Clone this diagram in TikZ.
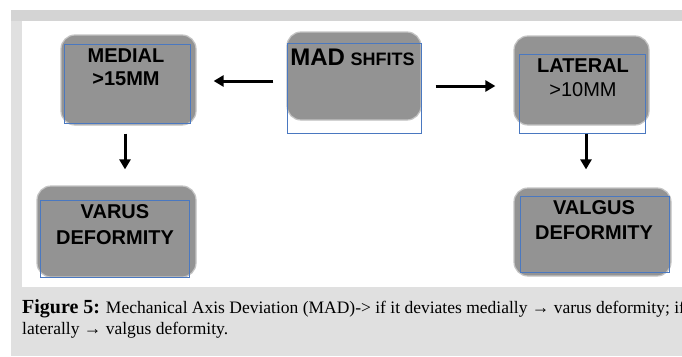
\documentclass[tikz,border=0pt]{standalone}
\usepackage{fontspec}
\setmainfont{Liberation Serif}
\newfontfamily\arialf{Liberation Sans}
\usetikzlibrary{arrows.meta}

\definecolor{boxgray}{HTML}{939393}
\definecolor{framblue}{HTML}{4A78C0}
\definecolor{pagegray}{HTML}{E0E0E0}
\definecolor{bandgray}{HTML}{D4D4D4}

\tikzset{
  graybox/.style={rectangle, rounded corners=14pt, fill=boxgray, draw=boxgray!55!white, line width=1.2pt},
  frame/.style={rectangle, draw=framblue, line width=0.9pt, inner sep=0pt},
  boxtext/.style={align=center, inner sep=0pt, font={\arialf\bfseries\fontsize{20}{24}\selectfont}},
  arr/.style={-{Triangle[length=10pt,width=11pt]}, line width=3pt, black}
}

\begin{document}
\begin{tikzpicture}[x=1pt, y=-1pt]
        \clip (0,0) rectangle (682,356);
        % page background
        \fill[pagegray] (11,10) rectangle (682,356);
        \fill[bandgray] (11,10) rectangle (682,21);
        \fill[white] (22,21) rectangle (682,287);

        % boxes
        \node[graybox, minimum width=135pt, minimum height=90pt] (1) at (128.5,80) {};
        \node[graybox, minimum width=134pt, minimum height=88pt] (2) at (354,76) {};
        \node[graybox, minimum width=135pt, minimum height=89pt] (3) at (581.5,80.5) {};
        \node[graybox, minimum width=159pt, minimum height=91pt] (4) at (116.5,231.5) {};
        \node[graybox, minimum width=157pt, minimum height=88pt] (5) at (592.5,232) {};

        \node[frame, minimum width=126pt, minimum height=79pt] (f1) at (127,83.5) {};
        \node[frame, minimum width=134pt, minimum height=90pt] (f2) at (354,88) {};
        \node[frame, minimum width=126pt, minimum height=79pt] (f3) at (582,93.5) {};
        \node[frame, minimum width=149pt, minimum height=77pt] (f4) at (114.5,238.5) {};
        \node[frame, minimum width=149pt, minimum height=76pt] (f5) at (594.5,234) {};

        \node[boxtext, font={\arialf\bfseries\fontsize{20}{23}\selectfont}] (t1) at (126,67) {MEDIAL\\>15MM};
        \node[boxtext, anchor=base] (t2) at (352.5,65) {{\fontsize{24}{24}\selectfont MAD} {\fontsize{18}{18}\selectfont SHFITS}};
        \node[boxtext] (t3) at (583,77.5) {LATERAL\\{\mdseries >10MM}};
        \node[boxtext, font={\arialf\bfseries\fontsize{20}{26}\selectfont}] (t4) at (115,225) {VARUS\\DEFORMITY};
        \node[boxtext, font={\arialf\bfseries\fontsize{20}{25.5}\selectfont}] (t5) at (594,220) {VALGUS\\DEFORMITY};

        \path[arr]
        ([yshift=-5pt]2.west) edge[shorten <=13pt, shorten >=17pt] ([yshift=-5pt]2.west -| 1.east)
        ([yshift=-10pt]2.east) edge[shorten <=14pt, shorten >=18pt] ([yshift=-10pt]2.east -| 3.west)
        ([xshift=-3.5pt]1.south) edge[shorten <=8pt, shorten >=16pt] ([xshift=-3.5pt]1.south |- 4.north)
        ([xshift=4.5pt]3.south) edge[shorten <=8pt, shorten >=18pt] ([xshift=4.5pt]3.south |- 5.north);

        % caption
        \node[anchor=base west, inner sep=0pt, font={\fontsize{17.5}{21.5}\selectfont}] (c1) at (22,313)
          {{\bfseries\fontsize{20}{22}\selectfont Figure 5:} Mechanical Axis Deviation (MAD)-> if it deviates medially → varus deformity; if};
        \node[anchor=base west, inner sep=0pt, font={\fontsize{17.5}{21.5}\selectfont}] (c2) at (22,334.5)
          {laterally → valgus deformity.};
    \end{tikzpicture}
\end{document}
